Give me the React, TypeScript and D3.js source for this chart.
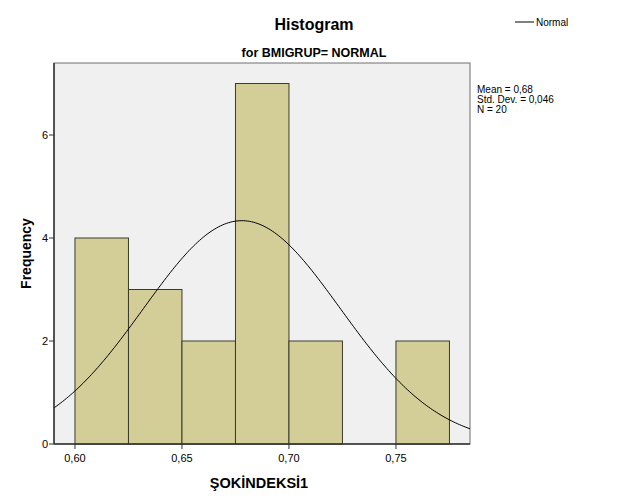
import React from "react";
import * as d3 from "d3";

const binStarts = [0.6, 0.625, 0.65, 0.675, 0.7, 0.725, 0.75];
const binWidth = 0.025;
const counts = [4, 3, 2, 7, 2, 0, 2];
const xTicks = [0.6, 0.65, 0.7, 0.75];
const yTicks = [0, 2, 4, 6];
const meanVal = 0.678;
const sdVal = 0.046;
const nVal = 20;
const statsLines = ["Mean = 0,68", "Std. Dev. = 0,046", "N = 20"];

const W = 629, H = 504;
const L = 54, R = 470, T = 63, B = 444;

export default function App() {
  const x = d3.scaleLinear().domain([0.5902, 0.7846]).range([L, R]);
  const y = d3.scaleLinear().domain([0, (B - T) / 51.5]).range([B, T]);
  const fmt = (v: number) => v.toFixed(2).replace(".", ",");
  const peak = (nVal * binWidth) / (sdVal * Math.sqrt(2 * Math.PI));
  const pts = d3.range(0, 201).map((i) => {
    const xv = 0.5902 + (i / 200) * (0.7846 - 0.5902);
    const z = (xv - meanVal) / sdVal;
    return [xv, peak * Math.exp(-0.5 * z * z)] as [number, number];
  });
  const line = d3.line<[number, number]>().x((d) => x(d[0])).y((d) => y(d[1]));
  const font = "Liberation Sans, Arial, sans-serif";
  return (
    <svg width={W} height={H} style={{ position: "absolute", left: 0, top: 0, background: "#fff" }} fontFamily={font}>
      <rect x={0} y={0} width={W} height={H} fill="#fff" />
      <text x={314} y={30} textAnchor="middle" fontSize={16} fontWeight="bold">Histogram</text>
      <text x={314} y={57} textAnchor="middle" fontSize={12.5} fontWeight="bold">for BMIGRUP= NORMAL</text>
      <line x1={515} x2={534} y1={22} y2={22} stroke="#000" strokeWidth={1} />
      <text x={536} y={26} fontSize={10}>Normal</text>
      <rect x={L} y={T} width={R - L} height={B - T} fill="#f0f0f0" stroke="#6e6e6e" strokeWidth={1} />
      <g>
        {binStarts.map((s, i) =>
          counts[i] > 0 ? (
            <rect key={i} x={x(s)} y={y(counts[i])} width={x(s + binWidth) - x(s)} height={B - y(counts[i])}
              fill="#d3ce98" stroke="#3a3a2a" strokeWidth={1} />
          ) : null
        )}
      </g>
      <path d={line(pts) || ""} fill="none" stroke="#000" strokeWidth={1} />
      <line x1={L} x2={L} y1={T} y2={B} stroke="#333" strokeWidth={1.5} />
      <line x1={L} x2={R} y1={B} y2={B} stroke="#333" strokeWidth={1.5} />
      {yTicks.map((t) => (
        <g key={t}>
          <line x1={L - 5} x2={L} y1={y(t)} y2={y(t)} stroke="#333" />
          <text x={L - 6} y={y(t) + 4} textAnchor="end" fontSize={11}>{t}</text>
        </g>
      ))}
      {xTicks.map((t) => (
        <g key={t}>
          <line x1={x(t)} x2={x(t)} y1={B} y2={B + 5} stroke="#333" />
          <text x={x(t)} y={462} textAnchor="middle" fontSize={11}>{fmt(t)}</text>
        </g>
      ))}
      <text transform={`translate(31,${(T + B) / 2}) rotate(-90)`} textAnchor="middle" fontSize={14} fontWeight="bold">Frequency</text>
      <text x={259} y={488} textAnchor="middle" fontSize={14.5} fontWeight="bold">ŞOKİNDEKSİ1</text>
      {statsLines.map((s, i) => (
        <text key={i} x={477} y={93 + i * 10} fontSize={10}>{s}</text>
      ))}
    </svg>
  );
}
